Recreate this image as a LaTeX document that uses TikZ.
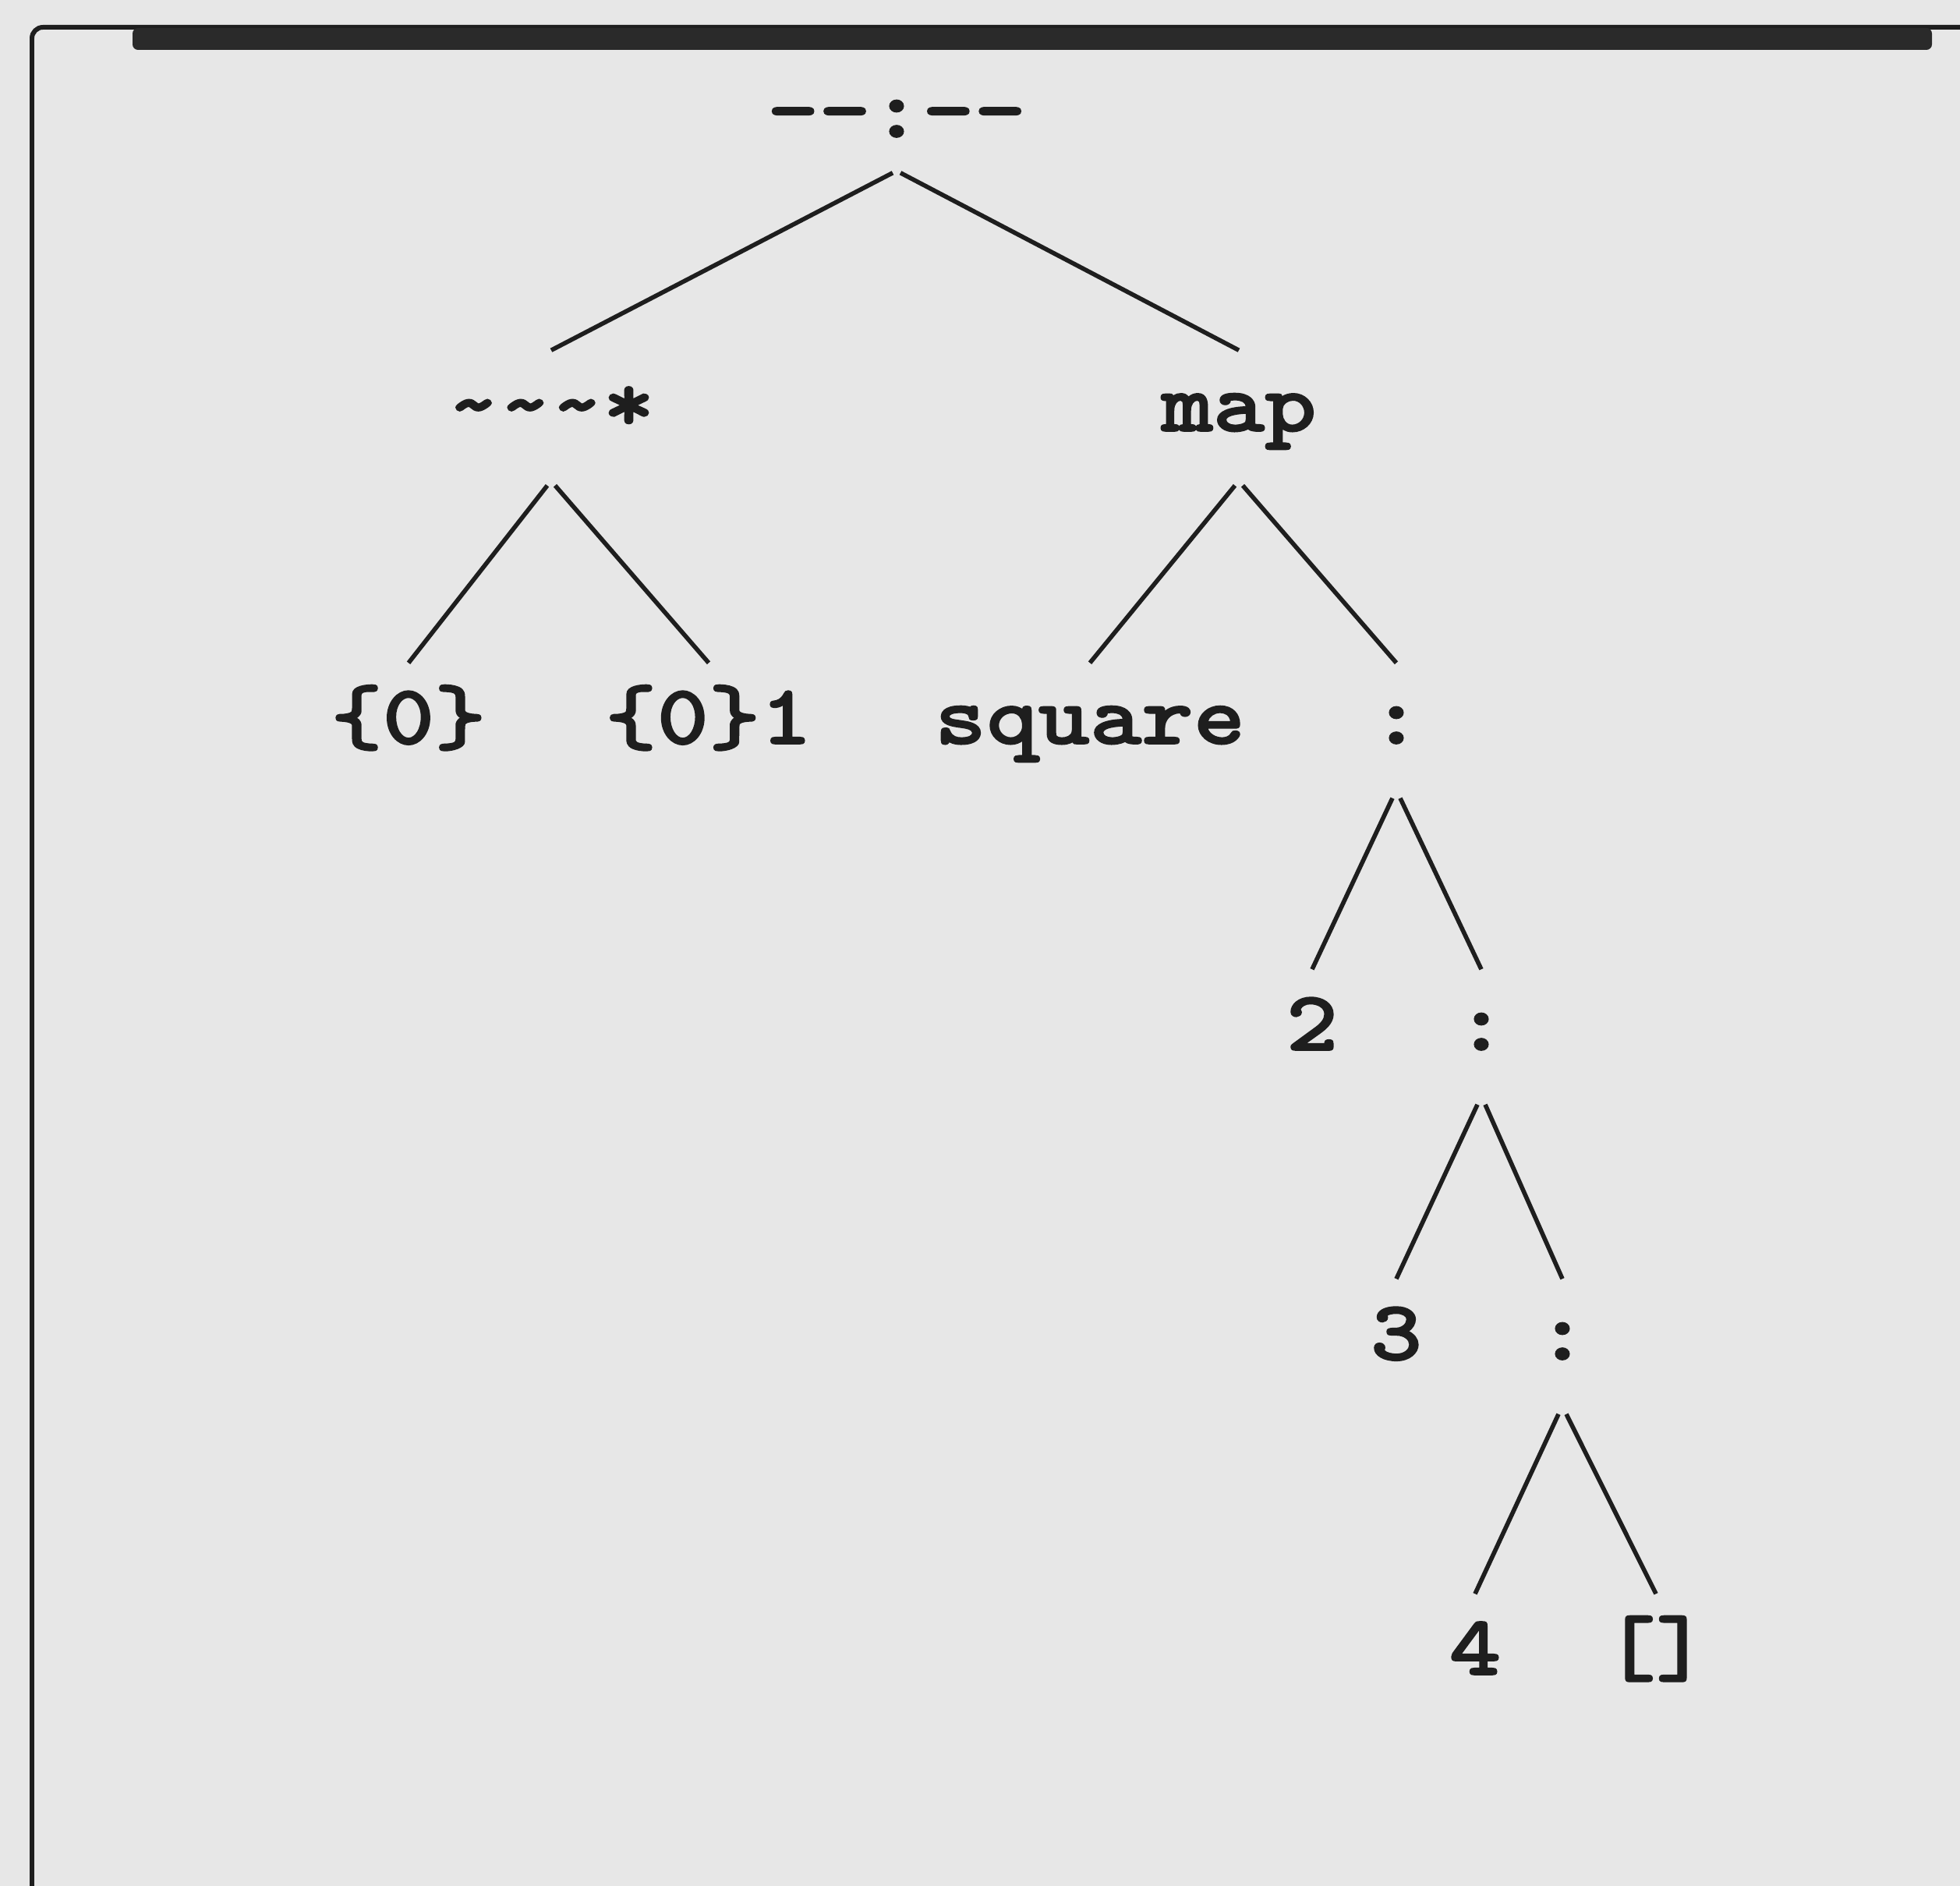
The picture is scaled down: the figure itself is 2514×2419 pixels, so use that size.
\documentclass[tikz,border=0pt]{standalone}
\usepackage{fontspec}
\newfontfamily\treefont{lmmonolt10-bold.otf}[FakeStretch=1.16, FakeBold=1.6]
\usepackage{xcolor}
\definecolor{screenbg}{HTML}{E7E7E7}
\definecolor{ink}{HTML}{1E1E1E}
\definecolor{barink}{HTML}{2A2A2A}
\usepackage{tikz}

\begin{document}
\begin{tikzpicture}[
      x=0.01cm, y=-0.01cm,
      lbl/.style={inner sep=0pt, anchor=base, text=ink,
                  font=\treefont\fontsize{31}{31}\selectfont,
                  text height=1.03cm, text depth=0.69cm},
      toplbl/.style={lbl, text depth=0.45cm},
      br/.style={draw=ink, line width=1.6pt},
    ]
    % window
    \fill[screenbg] (0,0) rectangle (2514,2419);
    \useasboundingbox (0,0) rectangle (2514,2419);
    \draw[ink, line width=1.7pt, rounded corners=4pt] (41,2419) -- (41,35) -- (2514,35);
    \fill[barink, rounded corners=2pt] (170,36) rectangle (2478,64);

    % tree
    \node[toplbl] (root)   at (1150,176)  {-{}-:-{}-};
    \node[lbl]    (tilde)  at (707,553)   {\textasciitilde\textasciitilde\textasciitilde*};
    \node[lbl]    (map)    at (1589,553)  {map};
    \node[lbl]    (zeroa)  at (524,954)   {\{0\}};
    \node[lbl]    (zerob)  at (909,954)   {\{0\}1};
    \node[lbl]    (square) at (1398,954)  {square};
    \node[lbl]    (consa)  at (1791,954)  {:};
    \node[lbl]    (two)    at (1683,1347) {2};
    \node[lbl]    (consb)  at (1900,1347) {:};
    \node[lbl]    (three)  at (1791,1744) {3};
    \node[lbl]    (consc)  at (2004,1744) {:};
    \node[lbl]    (four)   at (1892,2148) {4};
    \node[lbl]    (nil)    at (2124,2148) {[]};

    \draw[br] ([xshift=-0.05cm]root.south) -- (tilde.north);
    \draw[br] ([xshift=0.05cm]root.south) -- (map.north);
    \draw[br] ([xshift=-0.05cm]tilde.south) -- (zeroa.north);
    \draw[br] ([xshift=0.05cm]tilde.south) -- (zerob.north);
    \draw[br] ([xshift=-0.05cm]map.south) -- (square.north);
    \draw[br] ([xshift=0.05cm]map.south) -- (consa.north);
    \draw[br] ([xshift=-0.05cm]consa.south) -- (two.north);
    \draw[br] ([xshift=0.05cm]consa.south) -- (consb.north);
    \draw[br] ([xshift=-0.05cm]consb.south) -- (three.north);
    \draw[br] ([xshift=0.05cm]consb.south) -- (consc.north);
    \draw[br] ([xshift=-0.05cm]consc.south) -- (four.north);
    \draw[br] ([xshift=0.05cm]consc.south) -- (nil.north);
  \end{tikzpicture}
\end{document}
